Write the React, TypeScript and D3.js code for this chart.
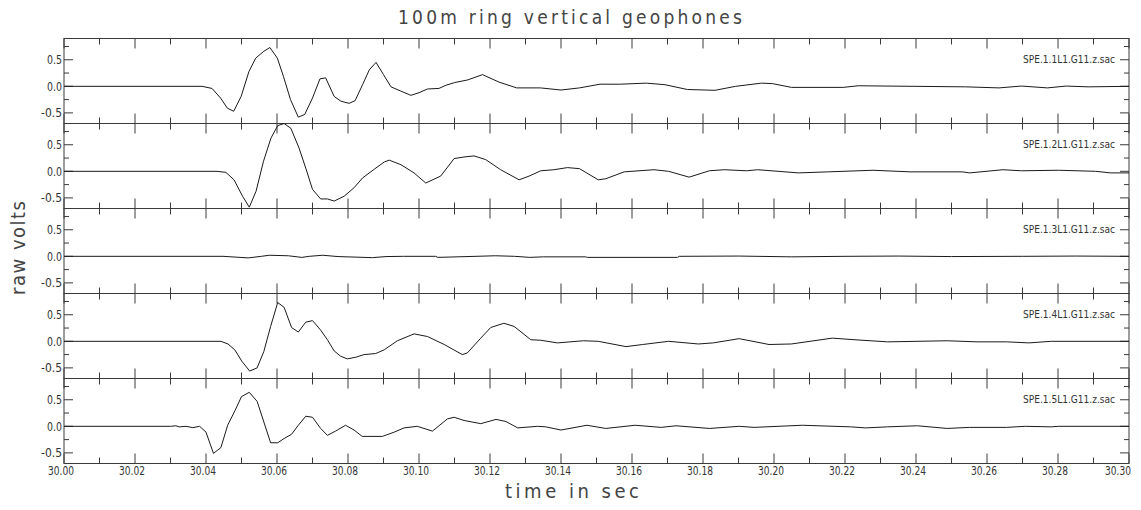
import React from "react";
import * as d3 from "d3";

// ---------- data ----------
const title = "100m ring vertical geophones";
const xLabel = "time in sec";
const yLabel = "raw volts";
const stations = [
  "SPE.1.1L1.G11.z.sac",
  "SPE.1.2L1.G11.z.sac",
  "SPE.1.3L1.G11.z.sac",
  "SPE.1.4L1.G11.z.sac",
  "SPE.1.5L1.G11.z.sac",
];
const xTicksMajor = [30.0, 30.02, 30.04, 30.06, 30.08, 30.1, 30.12, 30.14, 30.16, 30.18, 30.2, 30.22, 30.24, 30.26, 30.28, 30.3];
const yTicksMajor = [0.5, 0.0, -0.5];
const yTicksMinor = [0.75, 0.25, -0.25];

const trace1: [number, number][] = [
  [30.0, 0], [30.0389, 0], [30.0417, -0.04], [30.0441, -0.22], [30.046, -0.41], [30.0478, -0.47],
  [30.0499, -0.19], [30.0521, 0.28], [30.054, 0.53], [30.0563, 0.66], [30.058, 0.73], [30.0601, 0.53],
  [30.0618, 0.19], [30.0638, -0.25], [30.066, -0.58], [30.0678, -0.53], [30.07, -0.22], [30.0721, 0.14],
  [30.0737, 0.16], [30.0761, -0.19], [30.078, -0.28], [30.0803, -0.32], [30.082, -0.27], [30.0841, 0.03],
  [30.086, 0.31], [30.0879, 0.45], [30.09, 0.22], [30.0921, -0.01], [30.0949, -0.09], [30.0977, -0.17],
  [30.1, -0.12], [30.1024, -0.05], [30.1056, -0.04], [30.1076, 0.02], [30.11, 0.07], [30.1137, 0.12],
  [30.1179, 0.22], [30.1225, 0.08], [30.1275, -0.03], [30.1342, -0.03], [30.14, -0.07], [30.1452, -0.03],
  [30.151, 0.04], [30.1567, 0.04], [30.1641, 0.06], [30.1693, 0.03], [30.1756, -0.06], [30.1834, -0.075],
  [30.1892, 0], [30.1965, 0.06], [30.1996, 0.05], [30.2049, -0.02], [30.2195, -0.02], [30.2237, 0.01],
  [30.2394, 0], [30.254, -0.01], [30.2634, -0.03], [30.2697, 0.005], [30.277, -0.03], [30.2823, 0.005],
  [30.2885, -0.01], [30.3, 0],
];

const trace2: [number, number][] = [
  [30.0, 0], [30.0431, 0], [30.0456, -0.02], [30.0479, -0.16], [30.0503, -0.47], [30.0522, -0.675],
  [30.0541, -0.375], [30.0562, 0.19], [30.0583, 0.625], [30.0602, 0.86], [30.062, 0.9], [30.0639, 0.81],
  [30.0662, 0.44], [30.0681, 0.06], [30.07, -0.34], [30.0723, -0.52], [30.0742, -0.52], [30.0761, -0.56],
  [30.0789, -0.47], [30.0817, -0.31], [30.0841, -0.125], [30.0874, 0.04], [30.0902, 0.175], [30.0916, 0.21],
  [30.0949, 0.125], [30.0986, -0.03], [30.1019, -0.22], [30.1061, -0.09], [30.1099, 0.24], [30.1127, 0.27],
  [30.1155, 0.29], [30.1188, 0.22], [30.123, 0.03], [30.1282, -0.16], [30.131, -0.09], [30.1343, 0.01],
  [30.138, 0.03], [30.1418, 0.07], [30.1452, 0.05], [30.1505, -0.16], [30.1526, -0.14], [30.1578, -0.01],
  [30.1662, 0.03], [30.1703, 0], [30.1761, -0.11], [30.1818, 0.01], [30.186, 0.03], [30.1923, 0.01],
  [30.1954, 0.03], [30.2069, -0.03], [30.2153, -0.01], [30.2279, 0.02], [30.2383, -0.01], [30.253, -0.01],
  [30.2551, -0.03], [30.2645, 0.03], [30.2697, 0.01], [30.2802, 0.02], [30.2906, 0], [30.2948, -0.03],
  [30.3, -0.03],
];

const trace3: [number, number][] = [
  [30.0, 0], [30.0448, 0], [30.0519, -0.03], [30.0556, 0], [30.0578, 0.02], [30.0632, 0.01],
  [30.067, -0.02], [30.0691, 0], [30.0729, 0.02], [30.0772, -0.005], [30.0869, -0.025], [30.0907, -0.005],
  [30.0956, 0], [30.1047, 0], [30.1053, -0.02], [30.1107, -0.01], [30.1215, 0.01], [30.1269, 0],
  [30.1312, -0.02], [30.135, -0.01], [30.1469, -0.01], [30.1475, -0.02], [30.1728, -0.02], [30.1733, 0],
  [30.19, 0.005], [30.205, -0.01], [30.22, 0], [30.235, 0.005], [30.25, -0.005], [30.27, 0],
  [30.285, 0.005], [30.3, 0],
];

const trace4: [number, number][] = [
  [30.0, 0], [30.0442, 0], [30.0462, -0.05], [30.0481, -0.16], [30.0501, -0.375], [30.0523, -0.56],
  [30.0544, -0.5], [30.0563, -0.19], [30.0582, 0.28], [30.0602, 0.73], [30.062, 0.64], [30.0641, 0.26],
  [30.066, 0.175], [30.0681, 0.36], [30.07, 0.39], [30.0723, 0.21], [30.0742, 0.03], [30.0761, -0.18],
  [30.0779, -0.28], [30.0798, -0.33], [30.0822, -0.3], [30.0845, -0.25], [30.0878, -0.23], [30.0902, -0.16],
  [30.0939, 0.01], [30.0986, 0.14], [30.1024, 0.09], [30.1071, -0.06], [30.1122, -0.25], [30.1136, -0.22],
  [30.1174, 0.06], [30.1202, 0.26], [30.1239, 0.34], [30.1268, 0.28], [30.1315, 0.03], [30.1343, 0.02],
  [30.139, -0.03], [30.1463, 0.01], [30.1505, 0], [30.1583, -0.1], [30.163, -0.06], [30.1703, 0],
  [30.1787, -0.05], [30.1829, -0.03], [30.1902, 0.05], [30.1986, -0.06], [30.2049, -0.05], [30.2164, 0.06],
  [30.2237, 0.025], [30.232, -0.01], [30.2488, 0.01], [30.2572, -0.01], [30.2655, -0.01], [30.2718, -0.03],
  [30.2781, 0], [30.3, 0],
];

const trace5: [number, number][] = [
  [30.0, 0], [30.03, 0], [30.0315, 0.01], [30.0325, -0.01], [30.0344, 0], [30.0363, -0.025],
  [30.0382, 0], [30.04, -0.11], [30.0421, -0.51], [30.0442, -0.4], [30.0461, 0.02], [30.0482, 0.3],
  [30.05, 0.56], [30.0522, 0.64], [30.0544, 0.47], [30.0563, 0.08], [30.0582, -0.31], [30.0602, -0.31],
  [30.062, -0.23], [30.0641, -0.15], [30.066, 0.02], [30.0681, 0.19], [30.07, 0.17], [30.0723, -0.04],
  [30.0742, -0.17], [30.0765, -0.09], [30.0793, 0.02], [30.0817, -0.07], [30.084, -0.19], [30.0897, -0.19],
  [30.093, -0.11], [30.0958, -0.03], [30.0995, 0], [30.1038, -0.09], [30.108, 0.14], [30.1099, 0.17],
  [30.1127, 0.11], [30.1174, 0.05], [30.1217, 0.13], [30.1245, 0.09], [30.1278, -0.03], [30.1334, 0],
  [30.1357, -0.01], [30.14, -0.07], [30.1473, 0.02], [30.1526, -0.04], [30.1609, 0.02], [30.1682, -0.02],
  [30.1724, 0.01], [30.1818, -0.04], [30.1902, 0], [30.1944, -0.02], [30.208, 0.02], [30.2216, -0.01],
  [30.2258, -0.03], [30.232, -0.01], [30.2404, 0.01], [30.2488, -0.04], [30.2551, -0.02], [30.2655, -0.02],
  [30.2708, 0], [30.2781, -0.01], [30.2802, 0], [30.3, 0],
];

const traces = [trace1, trace2, trace3, trace4, trace5];

// ---------- layout ----------
const W = 1141;
const H = 510;
const left = 64;
const right = 1129;
const top0 = 38.5;
const panelH = 85;
const yDomain: [number, number] = [-0.7, 0.9];
const FONT = "'DejaVu Sans Condensed', 'Liberation Sans Narrow', 'DejaVu Sans', sans-serif";
const AX = "#3a3a3a";

export default function App() {
  const x = d3.scaleLinear().domain([30.0, 30.3]).range([left, right]);
  const xMinor = d3.range(0, 31).map((i) => 30 + i * 0.01);

  return (
    <svg
      width={W}
      height={H}
      viewBox={`0 0 ${W} ${H}`}
      style={{ position: "absolute", left: 0, top: 0, background: "#fff" }}
    >
      <text
        x={570}
        y={24}
        textAnchor="middle"
        fontFamily={FONT}
        fontSize={19}
        fill="#444"
        textLength={344}
        lengthAdjust="spacing"
      >
        {title}
      </text>

      {traces.map((tr, i) => {
        const pt = top0 + i * panelH;
        const y = d3.scaleLinear().domain(yDomain).range([pt + panelH, pt]);
        const line = d3
          .line<[number, number]>()
          .x((d) => x(d[0]))
          .y((d) => y(d[1]));
        return (
          <g key={i}>
            <rect x={left} y={pt} width={right - left} height={panelH} fill="none" stroke={AX} strokeWidth={1} />
            {xMinor.map((t, k) => {
              const major = k % 2 === 0;
              const len = major ? 10 : 6;
              const xx = x(t);
              return (
                <g key={k}>
                  <line x1={xx} x2={xx} y1={pt} y2={pt + len} stroke={AX} strokeWidth={1} />
                  <line x1={xx} x2={xx} y1={pt + panelH} y2={pt + panelH - len} stroke={AX} strokeWidth={1} />
                </g>
              );
            })}
            {yTicksMajor.map((v) => (
              <g key={"M" + v}>
                <line x1={left} x2={left + 9} y1={y(v)} y2={y(v)} stroke={AX} strokeWidth={1} />
                <line x1={right} x2={right - 9} y1={y(v)} y2={y(v)} stroke={AX} strokeWidth={1} />
                <text
                  x={left - 2}
                  y={y(v)}
                  dy="0.35em"
                  textAnchor="end"
                  fontFamily={FONT}
                  fontSize={12}
                  fill="#333"
                  textLength={v < 0 ? 21 : 15}
                  lengthAdjust="spacingAndGlyphs"
                >
                  {v.toFixed(1)}
                </text>
              </g>
            ))}
            {yTicksMinor.map((v) => (
              <g key={"m" + v}>
                <line x1={left} x2={left + 5} y1={y(v)} y2={y(v)} stroke={AX} strokeWidth={1} />
                <line x1={right} x2={right - 5} y1={y(v)} y2={y(v)} stroke={AX} strokeWidth={1} />
              </g>
            ))}
            <text
              x={right - 14}
              y={y(0.5)}
              dy="0.35em"
              textAnchor="end"
              fontFamily={FONT}
              fontSize={10}
              fill="#333"
              textLength={92}
              lengthAdjust="spacingAndGlyphs"
            >
              {stations[i]}
            </text>
            <path d={line(tr) || ""} fill="none" stroke="#1a1a1a" strokeWidth={1} />
          </g>
        );
      })}

      {xTicksMajor.map((t, k) => {
        const last = k === xTicksMajor.length - 1;
        return (
          <text
            key={t}
            x={last ? right + 2 : x(t) - 3}
            y={top0 + 5 * panelH + 11}
            textAnchor={last ? "end" : "middle"}
            fontFamily={FONT}
            fontSize={12}
            fill="#333"
            textLength={26}
            lengthAdjust="spacingAndGlyphs"
          >
            {t.toFixed(2)}
          </text>
        );
      })}

      <text
        x={572}
        y={498}
        textAnchor="middle"
        fontFamily={FONT}
        fontSize={20}
        fill="#444"
        textLength={134}
        lengthAdjust="spacing"
      >
        {xLabel}
      </text>
      <text
        transform={`translate(25, ${248}) rotate(-90)`}
        textAnchor="middle"
        fontFamily={FONT}
        fontSize={20}
        fill="#444"
        textLength={94}
        lengthAdjust="spacing"
      >
        {yLabel}
      </text>
    </svg>
  );
}
